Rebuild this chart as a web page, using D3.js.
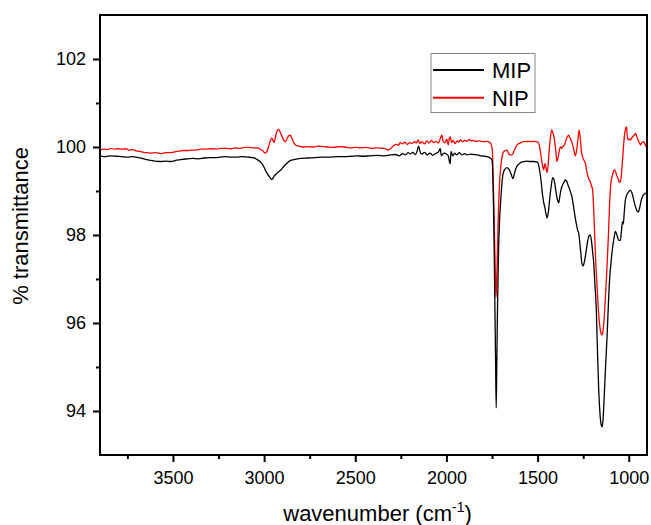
<!DOCTYPE html>
<html lang="en">
<head>
    <meta charset="UTF-8">
    <title>FTIR MIP / NIP</title>
    <script src="https://d3js.org/d3.v7.min.js"></script>
    <style>
        body { margin: 0; background: #fff; }
        svg text { font-family: "Liberation Sans", Arial, Helvetica, sans-serif; fill: #000; }
    </style>
</head>
<body>
    <div id="chart-container"></div>

    <script>
        // series: [wavenumber (cm-1), % transmittance]
        const mip = [
            [3900, 99.80], [3870, 99.78], [3840, 99.80], [3810, 99.79], [3780, 99.78], [3750, 99.77],
            [3720, 99.78], [3690, 99.76], [3660, 99.73], [3630, 99.70], [3600, 99.68], [3570, 99.67],
            [3540, 99.68], [3510, 99.67], [3480, 99.70], [3450, 99.72], [3420, 99.73], [3390, 99.74],
            [3360, 99.73], [3330, 99.75], [3300, 99.76], [3270, 99.76], [3240, 99.77], [3210, 99.78],
            [3180, 99.77], [3150, 99.77], [3120, 99.78], [3090, 99.77], [3060, 99.76], [3040, 99.72],
            [3020, 99.66], [3005, 99.58], [2994, 99.48], [2980, 99.38], [2970, 99.32], [2958, 99.26],
            [2945, 99.34], [2931, 99.40], [2910, 99.47], [2894, 99.55], [2875, 99.63], [2857, 99.69],
            [2830, 99.72], [2800, 99.74], [2760, 99.75], [2720, 99.76], [2680, 99.77], [2640, 99.77],
            [2600, 99.78], [2560, 99.78], [2520, 99.79], [2490, 99.80], [2460, 99.79], [2420, 99.80],
            [2380, 99.81], [2340, 99.80], [2308, 99.82], [2280, 99.83], [2260, 99.80], [2240, 99.85],
            [2225, 99.82], [2210, 99.87], [2198, 99.84], [2185, 99.88], [2170, 99.83], [2160, 99.92],
            [2153, 100.02], [2145, 99.90], [2135, 99.84], [2120, 99.88], [2105, 99.82], [2090, 99.86],
            [2075, 99.81], [2060, 99.85], [2045, 99.88], [2034, 99.96], [2028, 99.80], [2015, 99.86],
            [2000, 99.84], [1990, 99.80], [1983, 99.66], [1979, 99.62], [1975, 99.90], [1965, 99.80],
            [1955, 99.86], [1943, 99.82], [1930, 99.87], [1915, 99.82], [1900, 99.85], [1885, 99.82],
            [1869, 99.84], [1850, 99.83], [1830, 99.82], [1810, 99.80], [1790, 99.79], [1775, 99.78],
            [1760, 99.75], [1750, 99.70], [1746, 99.40], [1742, 98.70], [1738, 97.60], [1734, 96.30],
            [1730, 95.00], [1727, 94.07], [1724, 95.00], [1720, 96.30], [1715, 97.50], [1709, 98.30],
            [1702, 98.80], [1695, 99.20], [1689, 99.40], [1678, 99.50], [1668, 99.53], [1655, 99.48],
            [1645, 99.38], [1635, 99.28], [1627, 99.40], [1620, 99.50], [1610, 99.58], [1595, 99.64],
            [1575, 99.67], [1557, 99.68], [1540, 99.67], [1520, 99.67], [1500, 99.65], [1490, 99.50],
            [1480, 99.20], [1474, 98.95], [1467, 98.75], [1460, 98.62], [1454, 98.48], [1448, 98.39],
            [1440, 98.55], [1433, 98.85], [1425, 99.12], [1418, 99.30], [1412, 99.28], [1405, 99.15],
            [1398, 98.95], [1390, 98.78], [1384, 98.73], [1378, 98.88], [1372, 99.02], [1365, 99.12],
            [1355, 99.20], [1348, 99.25], [1340, 99.22], [1332, 99.12], [1325, 99.05], [1320, 98.98],
            [1312, 98.88], [1303, 98.65], [1293, 98.38], [1285, 98.20], [1280, 98.10], [1275, 98.05],
            [1268, 97.80], [1262, 97.55], [1257, 97.35], [1250, 97.30], [1243, 97.40], [1235, 97.60],
            [1226, 97.85], [1218, 97.98], [1211, 98.00], [1204, 97.85], [1198, 97.60], [1193, 97.40],
            [1186, 96.90], [1178, 96.30], [1174, 95.69], [1165, 94.50], [1158, 93.95], [1152, 93.70],
            [1147, 93.64], [1142, 93.75], [1136, 94.20], [1128, 94.95], [1119, 95.69], [1112, 96.40],
            [1105, 97.00], [1098, 97.35], [1092, 97.60], [1080, 97.95], [1073, 98.08],
            [1065, 98.00], [1055, 97.88], [1046, 97.88], [1040, 98.10], [1035, 98.30], [1030, 98.25],
            [1025, 98.50], [1019, 98.78], [1010, 98.92], [1001, 98.98], [991, 99.02], [982, 98.95],
            [973, 98.80], [964, 98.65], [955, 98.55], [948, 98.52], [940, 98.62], [932, 98.78],
            [924, 98.88], [915, 98.93], [909, 98.95], [900, 98.93]
        ];

        const nip = [
            [3900, 99.93], [3880, 99.95], [3860, 99.94], [3840, 99.97], [3820, 99.95], [3800, 99.96],
            [3780, 99.95], [3760, 99.96], [3740, 99.93], [3720, 99.94], [3700, 99.91], [3680, 99.90],
            [3660, 99.88], [3640, 99.87], [3620, 99.86], [3600, 99.87], [3580, 99.86], [3560, 99.85],
            [3540, 99.87], [3520, 99.87], [3500, 99.88], [3480, 99.90], [3460, 99.91], [3440, 99.92],
            [3420, 99.92], [3400, 99.93], [3380, 99.93], [3360, 99.94], [3340, 99.95], [3320, 99.95],
            [3300, 99.96], [3280, 99.96], [3260, 99.95], [3240, 99.97], [3220, 99.97], [3200, 99.97],
            [3180, 99.96], [3160, 99.98], [3140, 99.97], [3120, 99.98], [3100, 99.99], [3080, 99.99],
            [3060, 99.98], [3040, 99.98], [3020, 99.95], [3005, 99.90], [2994, 99.86], [2984, 99.90],
            [2976, 100.00], [2968, 100.12], [2958, 100.20], [2950, 100.14], [2945, 100.10], [2938, 100.22],
            [2930, 100.36], [2921, 100.40], [2912, 100.34], [2900, 100.22], [2892, 100.15], [2884, 100.12],
            [2875, 100.18], [2866, 100.25], [2857, 100.27], [2848, 100.20], [2838, 100.10], [2825, 100.04],
            [2812, 100.02], [2790, 100.00], [2760, 100.01], [2730, 100.00], [2700, 100.02], [2676, 100.01],
            [2650, 100.00], [2620, 99.99], [2590, 100.01], [2560, 100.00], [2530, 99.98], [2500, 99.99],
            [2470, 99.98], [2440, 99.99], [2410, 99.97], [2380, 99.98], [2347, 99.97], [2330, 99.95],
            [2319, 99.93], [2305, 99.97], [2290, 100.03], [2275, 100.06], [2262, 100.04], [2254, 100.10],
            [2240, 100.07], [2228, 100.11], [2215, 100.06], [2200, 100.10], [2188, 100.08], [2175, 100.12],
            [2165, 100.09], [2155, 100.16], [2145, 100.08], [2135, 100.12], [2120, 100.07], [2108, 100.14],
            [2095, 100.09], [2082, 100.15], [2070, 100.10], [2058, 100.13], [2045, 100.09], [2033, 100.20],
            [2025, 100.27], [2018, 100.12], [2008, 100.10], [1998, 100.18], [1990, 100.05], [1984, 100.20],
            [1979, 100.23], [1972, 100.10], [1963, 100.15], [1952, 100.08], [1942, 100.14], [1932, 100.11],
            [1924, 100.16], [1912, 100.12], [1900, 100.15], [1888, 100.13], [1875, 100.17], [1865, 100.14],
            [1852, 100.15], [1840, 100.13], [1825, 100.14], [1810, 100.13], [1795, 100.12], [1780, 100.13],
            [1768, 100.12], [1760, 100.10], [1752, 100.02], [1748, 99.90], [1744, 99.40], [1740, 98.70],
            [1736, 97.90], [1732, 97.20], [1728, 96.58], [1724, 97.00], [1720, 97.70], [1715, 98.50],
            [1709, 99.15], [1702, 99.55], [1695, 99.78], [1688, 99.88], [1677, 99.92],
            [1668, 99.93], [1660, 99.86], [1650, 99.82], [1640, 99.82], [1630, 99.90], [1620, 100.00],
            [1610, 100.06], [1595, 100.09], [1580, 100.12], [1565, 100.12], [1550, 100.13], [1535, 100.12],
            [1520, 100.13], [1505, 100.12], [1495, 100.10], [1485, 99.90], [1476, 99.65], [1467, 99.48],
            [1460, 99.62], [1455, 99.55], [1448, 99.42], [1442, 99.60], [1436, 99.95], [1430, 100.20],
            [1423, 100.39], [1416, 100.32], [1408, 100.18], [1400, 99.90], [1394, 99.67], [1388, 99.75],
            [1381, 99.92], [1375, 100.00], [1368, 99.97], [1360, 100.02], [1352, 100.05], [1345, 100.15],
            [1338, 100.22], [1330, 100.27], [1322, 100.20], [1315, 100.14], [1308, 100.05], [1300, 99.90],
            [1293, 99.80], [1285, 99.95], [1278, 100.20], [1272, 100.39], [1266, 100.20], [1260, 99.90],
            [1254, 99.78], [1246, 99.70], [1238, 99.63], [1229, 99.42], [1220, 99.28], [1211, 99.21],
            [1205, 99.12], [1199, 99.05], [1193, 98.65], [1187, 98.00], [1180, 97.30], [1172, 96.70],
            [1165, 96.20], [1158, 95.90], [1152, 95.76], [1147, 95.73], [1142, 95.80], [1136, 96.05],
            [1130, 96.45], [1124, 96.90], [1118, 97.40], [1112, 97.95], [1106, 98.60], [1100, 99.10],
            [1097, 99.22], [1090, 99.35], [1083, 99.45], [1078, 99.48], [1072, 99.44], [1066, 99.35],
            [1060, 99.30], [1054, 99.22], [1048, 99.20], [1042, 99.30], [1036, 99.60], [1030, 99.95],
            [1024, 100.25], [1017, 100.42], [1013, 100.46], [1008, 100.25], [1003, 100.16], [997, 100.18],
            [990, 100.16], [982, 100.22], [975, 100.25], [968, 100.28], [962, 100.31], [955, 100.22],
            [948, 100.15], [940, 100.08], [936, 100.05], [928, 100.10], [918, 100.12], [910, 100.05],
            [903, 100.00], [900, 99.98]
        ];

        const seriesNames = ["MIP", "NIP"];
        const seriesColors = ["#000000", "#ff0000"];
        const xTicks = [3500, 3000, 2500, 2000, 1500, 1000];
        const xMinorTicks = [3750, 3250, 2750, 2250, 1750, 1250];
        const yTicks = [94, 96, 98, 100, 102];
        const yMinorTicks = [95, 97, 99, 101];

        const containerWidth = 651;
        const containerHeight = 525;
        const margins = { top: 15, right: 4, bottom: 70, left: 100 };
        const width = containerWidth - margins.left - margins.right;
        const height = containerHeight - margins.top - margins.bottom;

        const svg = d3.select("#chart-container")
            .append("svg")
            .attr("width", containerWidth)
            .attr("height", containerHeight)
            .append("g")
            .attr("transform", `translate(${margins.left},${margins.top})`);

        const x = d3.scaleLinear().domain([3900, 900]).range([0, width]);
        const y = d3.scaleLinear().domain([93, 103]).range([height, 0]);

        svg.append("clipPath").attr("id", "plot-clip")
            .append("rect").attr("width", width).attr("height", height);

        const line = d3.line()
            .x(d => x(d[0]))
            .y(d => y(d[1]))
            .curve(d3.curveMonotoneX);

        // nip first so mip draws over it
        [[nip, seriesColors[1]], [mip, seriesColors[0]]].forEach(([data, col]) => {
            svg.append("path")
                .datum(data)
                .attr("clip-path", "url(#plot-clip)")
                .attr("fill", "none")
                .attr("stroke", col)
                .attr("stroke-width", 1.3)
                .attr("stroke-linejoin", "round")
                .attr("d", line);
        });

        // axes
        svg.append("g")
            .attr("transform", `translate(0,${height})`)
            .call(d3.axisBottom(x).tickValues(xTicks).tickFormat(d3.format("d"))
                .tickSize(7).tickSizeOuter(0).tickPadding(9));
        svg.append("g")
            .attr("transform", `translate(0,${height})`)
            .call(d3.axisBottom(x).tickValues(xMinorTicks).tickSize(4).tickSizeOuter(0).tickFormat(""));
        svg.append("g")
            .call(d3.axisLeft(y).tickValues(yTicks).tickFormat(d3.format("d"))
                .tickSize(7).tickSizeOuter(0).tickPadding(7));
        svg.append("g")
            .call(d3.axisLeft(y).tickValues(yMinorTicks).tickSize(4).tickSizeOuter(0).tickFormat(""));

        svg.selectAll(".domain").remove();
        svg.selectAll(".tick line").attr("stroke", "#000").attr("stroke-width", 2);
        svg.selectAll(".tick text").style("font-size", "18px");

        // frame
        svg.append("rect")
            .attr("width", width)
            .attr("height", height)
            .attr("fill", "none")
            .attr("stroke", "#000")
            .attr("stroke-width", 2);

        // axis titles
        const xt = svg.append("text")
            .attr("x", width / 2 + 4)
            .attr("y", 506)
            .attr("text-anchor", "middle")
            .style("font-size", "22px");
        xt.append("tspan").text("wavenumber (cm");
        xt.append("tspan").attr("dy", -9).style("font-size", "14px").text("-1");
        xt.append("tspan").attr("dy", 9).text(")");

        svg.append("text")
            .attr("transform", `translate(${28 - margins.left},${226 - margins.top}) rotate(-90)`)
            .attr("text-anchor", "middle")
            .style("font-size", "22px")
            .text("% transmittance");

        // legend
        const legend = svg.append("g")
            .attr("transform", `translate(${431 - margins.left},${53.5 - margins.top})`);
        legend.append("rect")
            .attr("width", 104)
            .attr("height", 59)
            .attr("fill", "#fff")
            .attr("stroke", "#888")
            .attr("stroke-width", 1);
        seriesNames.forEach((name, i) => {
            const ly = 16.5 + i * 27.7;
            legend.append("line")
                .attr("x1", 2).attr("x2", 53)
                .attr("y1", ly).attr("y2", ly)
                .attr("stroke", seriesColors[i])
                .attr("stroke-width", 2);
            legend.append("text")
                .attr("x", 61)
                .attr("y", ly + 8)
                .style("font-size", "22px")
                .text(name);
        });
    </script>
</body>
</html>
